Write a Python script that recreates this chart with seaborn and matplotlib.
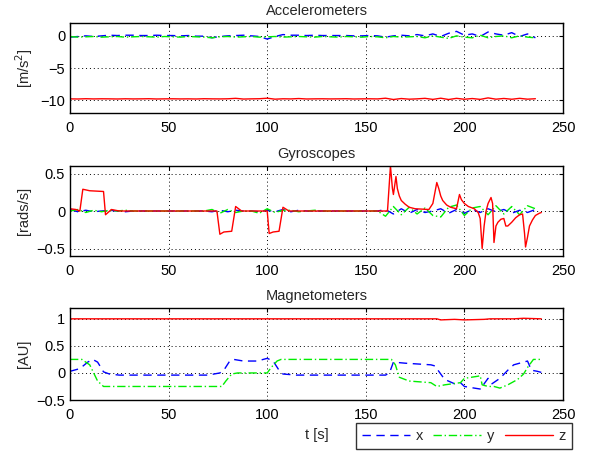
import numpy as np
import pandas as pd
import matplotlib
matplotlib.use("Agg")
import matplotlib.pyplot as plt
from matplotlib.lines import Line2D
import seaborn as sns

# ---------------- data ----------------
t_acc = list(range(0, 240, 4))  # 60 samples
acc_x = [-0.2, -0.1, 0.0, -0.1, 0.0, 0.1, 0.05, 0.1, 0.1, 0.05,
         0.05, 0.1, 0.05, 0.05, 0.0, 0.05, -0.05, -0.05, -0.3, -0.1,
         0.0, 0.05, 0.1, 0.0, -0.1, -0.5, -0.1, 0.2, 0.1, 0.1,
         0.05, 0.1, 0.05, 0.05, 0.05, 0.05, 0.0, 0.0, 0.05, 0.0,
         -0.2, 0.0, 0.1, 0.0, 0.2, 0.0, 0.3, -0.1, 0.4, 0.7,
         0.1, 0.3, -0.1, 0.6, 0.3, 0.1, 0.5, -0.1, 0.3, -0.3]
acc_y = [-0.1, -0.2, -0.15, -0.1, -0.2, -0.15, -0.1, -0.2, -0.15, -0.1,
         -0.15, -0.2, -0.1, -0.15, -0.2, -0.1, -0.15, -0.2, -0.3, -0.15,
         -0.1, -0.2, -0.15, -0.1, -0.2, -0.15, -0.1, -0.2, -0.15, -0.1,
         -0.15, -0.2, -0.1, -0.15, -0.2, -0.1, -0.15, -0.2, -0.1, -0.15,
         -0.3, -0.1, -0.2, -0.15, -0.1, -0.3, 0.0, -0.2, -0.4, 0.0,
         -0.2, -0.3, 0.1, -0.3, -0.1, 0.0, -0.3, 0.0, -0.2, -0.3]
acc_z = [-9.80, -9.82, -9.78, -9.81, -9.79, -9.80, -9.82, -9.79, -9.81, -9.80,
         -9.78, -9.82, -9.80, -9.79, -9.81, -9.80, -9.82, -9.78, -9.80, -9.81,
         -9.79, -9.72, -9.83, -9.80, -9.78, -9.70, -9.85, -9.79, -9.81, -9.75,
         -9.82, -9.80, -9.79, -9.81, -9.80, -9.78, -9.82, -9.80, -9.79, -9.81,
         -9.70, -9.90, -9.75, -9.85, -9.80, -9.72, -9.88, -9.70, -9.90, -9.72,
         -9.86, -9.75, -9.88, -9.65, -9.85, -9.74, -9.86, -9.72, -9.85, -9.78]

t_gyr = list(range(0, 240, 4))
gyr_x = [0.02, -0.01, 0.01, -0.01, 0.0, 0.01, 0.0, -0.01, 0.0, 0.0,
         0.0, 0.0, 0.0, 0.0, 0.0, 0.0, 0.0, 0.0, -0.01, 0.01,
         -0.01, 0.01, 0.0, 0.0, -0.01, 0.01, -0.01, 0.02, -0.01, 0.01,
         0.0, 0.0, 0.0, 0.0, 0.0, 0.0, 0.0, 0.0, 0.0, 0.0,
         0.02, -0.04, 0.03, -0.03, 0.02, -0.02, 0.0, 0.03, -0.03, 0.02,
         -0.03, 0.02, -0.02, 0.03, -0.01, 0.02, -0.03, 0.01, -0.02, 0.02]
gyr_y = [0.0, 0.02, -0.02, 0.01, -0.01, 0.01, 0.0, 0.01, 0.0, 0.0,
         0.0, 0.0, 0.0, 0.0, 0.0, 0.0, 0.0, 0.0, 0.02, -0.03,
         0.02, -0.02, 0.0, 0.0, -0.03, 0.03, -0.02, 0.01, 0.01, -0.01,
         0.0, 0.01, 0.0, 0.0, 0.0, 0.0, 0.0, 0.0, 0.0, 0.0,
         -0.07, 0.06, -0.05, 0.05, -0.04, 0.04, -0.06, -0.08, 0.05, 0.08,
         -0.06, 0.04, 0.06, -0.05, 0.07, -0.04, 0.06, -0.05, 0.07, 0.03]
t_gyr_z = [0, 3, 5, 6.5, 10, 17, 18, 21, 25, 74.5, 76, 78, 82, 84, 87,
           100, 101, 103, 106, 108, 111,
           161, 162.5, 163.5, 164, 165.3, 166, 167, 168, 170, 172, 175,
           182, 184, 186, 187, 188, 189, 191, 193, 196, 197.5, 198.5, 200, 202, 205,
           207, 208, 209, 210, 211, 212, 213.5, 214.3, 215, 216, 217, 218.5, 220,
           221, 222, 224, 226, 228, 229.5, 230.5, 231, 232, 233, 234.5, 236, 238, 239]
gyr_z = [0.03, 0.02, 0.0, 0.29, 0.27, 0.26, -0.05, 0.02, 0.0, 0.0, -0.31, -0.28, -0.27, 0.06, 0.0,
         0.0, -0.3, -0.28, -0.27, 0.05, 0.0,
         0.0, 0.6, 0.3, 0.22, 0.46, 0.3, 0.2, 0.14, 0.09, 0.05, 0.03,
         0.02, 0.1, 0.38, 0.3, 0.2, 0.14, 0.08, 0.05, 0.03, 0.22, 0.15, 0.1, 0.06, 0.03,
         -0.02, -0.1, -0.5, -0.2, 0.0, 0.1, 0.18, 0.1, -0.42, -0.2, -0.15, -0.11, -0.1,
         -0.2, -0.2, -0.15, -0.09, -0.05, -0.04, -0.3, -0.48, -0.35, -0.2, -0.12, -0.06, -0.03, -0.02]

t_mag_x = [0, 5, 9, 11.5, 14, 17, 20, 25, 70, 76, 78, 81, 83, 88, 95, 100,
           103, 106, 108, 115, 160, 162, 164, 170, 183, 185, 190, 195, 198, 200,
           205, 208.5, 210, 212, 214, 218, 222, 225, 230, 232, 234, 237, 239]
mag_x = [0.03, 0.08, 0.2, 0.25, 0.2, 0.02, -0.02, -0.04, -0.04, 0.0, 0.05, 0.22, 0.25, 0.22, 0.22, 0.27,
         0.22, 0.05, -0.02, -0.04, -0.04, 0.0, 0.2, 0.18, 0.15, 0.13, -0.12, -0.2, -0.18, -0.25,
         -0.28, -0.3, -0.2, -0.1, -0.2, -0.1, 0.05, 0.15, 0.2, 0.22, 0.05, 0.03, 0.01]
t_mag_y = [0, 6, 10, 14, 17, 77, 79, 82, 85, 100, 102, 105, 107, 163, 165, 167,
           172, 183, 186, 190, 198, 200, 207, 208, 209, 212, 215, 218, 222, 227,
           230, 232, 235, 239]
mag_y = [0.25, 0.25, 0.15, -0.15, -0.25, -0.25, -0.15, -0.02, 0.0, 0.0, 0.1, 0.22, 0.25, 0.25, 0.15, -0.08,
         -0.15, -0.18, -0.25, -0.22, -0.18, -0.1, -0.06, -0.05, -0.22, -0.25, -0.25, -0.28, -0.22, -0.12,
         -0.02, 0.1, 0.25, 0.25]
t_mag_z = [0, 100, 186, 188, 195, 200, 210, 213, 225, 230, 239]
mag_z = [1.0, 1.0, 1.0, 0.98, 0.99, 0.98, 0.99, 1.0, 1.0, 1.01, 1.0]

titles = ["Accelerometers", "Gyroscopes", "Magnetometers"]
ylabels = ["[m/s$^2$]", "[rads/s]", "[AU]"]
legend_labels = ["x", "y", "z"]

# ---------------- style ----------------
sns.set_style("white")
plt.rcParams['font.family'] = ['Liberation Sans', 'DejaVu Sans']
plt.rcParams['font.size'] = 10.5
FS = 10.5

W, H = 593, 454
fig = plt.figure(figsize=(W / 100, H / 100), dpi=100)

def make_ax(top, bottom, left=70, right=563):
    return fig.add_axes([left / W, 1 - bottom / H, (right - left) / W, (bottom - top) / H])

axes = [make_ax(23, 113), make_ax(166, 256), make_ax(308, 400)]

colors = {"x": "#0000ff", "y": "#00ee00", "z": "#ff0000"}
styles = {"x": (0, (6, 4)), "y": (0, (6, 2, 1, 2)), "z": "-"}

series = [
    [(t_acc, acc_x, "x"), (t_acc, acc_y, "y"), (t_acc, acc_z, "z")],
    [(t_gyr, gyr_x, "x"), (t_gyr, gyr_y, "y"), (t_gyr_z, gyr_z, "z")],
    [(t_mag_x, mag_x, "x"), (t_mag_y, mag_y, "y"), (t_mag_z, mag_z, "z")],
]
ylims = [(-12, 2), (-0.6, 0.6), (-0.5, 1.2)]
yticks = [[-10, -5, 0], [-0.5, 0, 0.5], [-0.5, 0, 0.5, 1]]
yticklabels = [["\u221210", "\u22125", "0"], ["\u22120.5", "0", "0.5"], ["\u22120.5", "0", "0.5", "1"]]

for ax, ser, title, yl, ylim, yt, ytl in zip(axes, series, titles, ylabels, ylims, yticks, yticklabels):
    for t, v, k in ser:
        df = pd.DataFrame({"t": t, "v": v})
        sns.lineplot(data=df, x="t", y="v", ax=ax, color=colors[k], linestyle=styles[k],
                     linewidth=1.0, estimator=None, sort=False)
    ax.set_xlim(0, 250)
    ax.set_ylim(*ylim)
    ax.set_xticks([0, 50, 100, 150, 200, 250])
    ax.set_yticks(yt)
    ax.set_yticklabels(ytl)
    ax.set_title(title, fontsize=FS, pad=6)
    ax.set_ylabel(yl, fontsize=FS, labelpad=4)
    ax.set_xlabel("")
    ax.grid(True, linestyle=(0, (1, 3)), color="black", linewidth=0.7)
    for s in ax.spines.values():
        s.set_color("black")
        s.set_linewidth(1.0)
        s.set_visible(True)
    ax.tick_params(direction="in", length=3, top=True, right=True, labelsize=FS, colors="black")
    ax.tick_params(axis="x", pad=6)
    ax.tick_params(axis="y", pad=3.5)

axes[2].set_xlabel("t [s]", fontsize=FS, labelpad=4)

handles = [Line2D([], [], color=colors[k], linestyle=styles[k], linewidth=1.0) for k in legend_labels]
leg = fig.legend(handles, legend_labels, loc="center",
                 bbox_to_anchor=(464 / W, 1 - 436 / H), ncol=3,
                 frameon=True, fancybox=False, edgecolor="black", borderaxespad=0,
                 handlelength=3.3, handletextpad=0.4, columnspacing=0.7, fontsize=FS,
                 borderpad=0.4)
leg.get_frame().set_linewidth(1.0)

fig.savefig("out.png", dpi=100)
